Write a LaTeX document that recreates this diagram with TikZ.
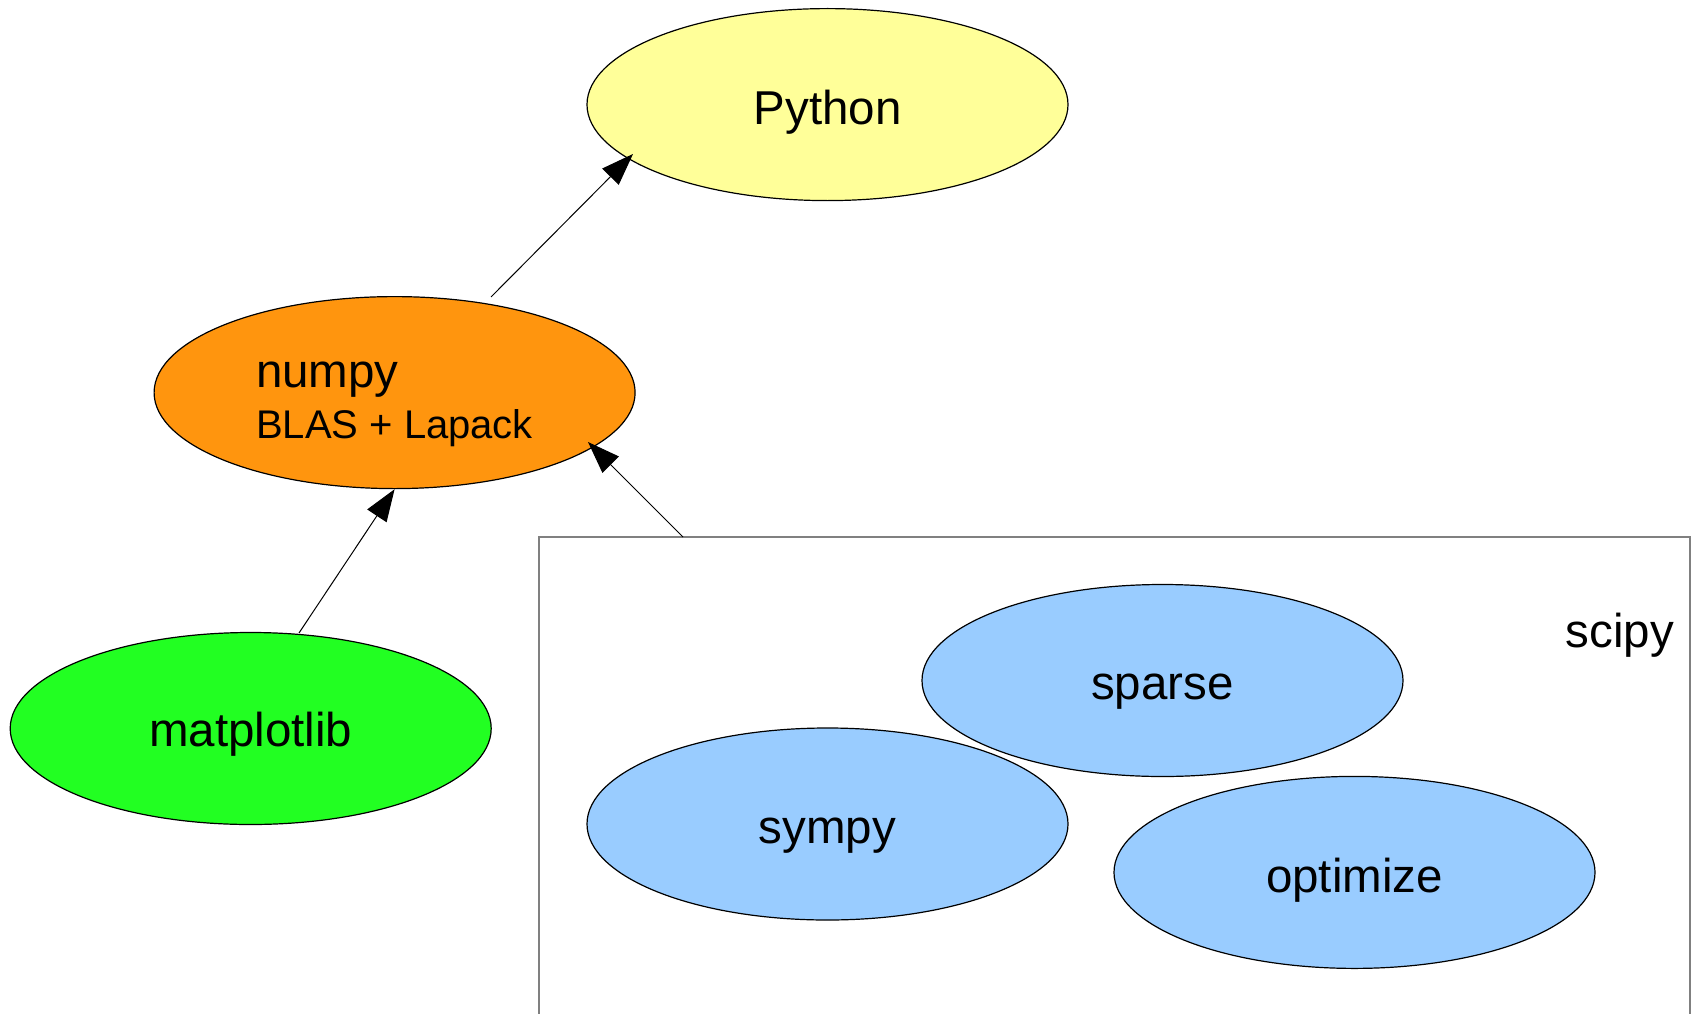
\documentclass[tikz,border=0pt]{standalone}
\usepackage{fontspec}
\setmainfont{Liberation Sans}
\usetikzlibrary{shapes.geometric,arrows.meta}
\definecolor{pyyellow}{HTML}{FFFF99}
\definecolor{nporange}{HTML}{FF950E}
\definecolor{mplgreen}{HTML}{22FF22}
\definecolor{sciblue}{HTML}{99CCFF}
\definecolor{boxgray}{HTML}{808080}
\newcommand{\lowertext}[2]{\raisebox{-#1}[\height][\depth]{#2}}
\begin{document}
\begin{tikzpicture}[x=1pt,y=-1pt,
  blob/.style={ellipse,draw=black,line width=1.2pt,inner sep=0pt,
    minimum width=481pt,minimum height=192pt,
    font=\fontsize{47.5}{57}\selectfont},
  dep/.style={-{Triangle[length=32pt,width=23pt]},line width=1pt},
  lbl/.style={inner sep=0pt,font=\fontsize{47.5}{57}\selectfont}]
\useasboundingbox (0,0) rectangle (1691,1014);
\fill[white] (0,0) rectangle (1691,1014);

% scipy container
\draw[boxgray,line width=1.5pt] (539,1020) -- (539,537) -- (1690,537) -- (1690,1020);
\node[lbl,anchor=base east] (scipy) at (1674,647) {scipy};

% nodes
\node[blob,fill=pyyellow] (python) at (827.5,104.6) {\lowertext{7.5pt}{Python}};
\node[blob,fill=nporange] (numpy) at (394.6,392.6)
  {\lowertext{12pt}{\vbox{\baselineskip=51pt\lineskiplimit=-100pt
    \hbox{numpy}\hbox{\fontsize{40}{48}\selectfont BLAS + Lapack}}}};
\node[blob,fill=mplgreen] (mpl) at (250.7,728.5) {\lowertext{5.5pt}{matplotlib}};
\node[blob,fill=sciblue] (sparse) at (1162.5,680.5) {\lowertext{11pt}{sparse}};
\node[blob,fill=sciblue] (sympy) at (827.5,824) {\lowertext{12pt}{sympy}};
\node[blob,fill=sciblue] (optimize) at (1354.5,872.4) {\lowertext{7.5pt}{optimize}};

% connector ends
\coordinate (np-out) at (491,297);
\coordinate (py-in) at (633,154);
\coordinate (mpl-out) at (299,633);
\coordinate (sc-out) at (683,537);
\coordinate (np-in) at (588,442);

\draw[dep] (np-out) -- (py-in);
\draw[dep] (mpl-out) -- (numpy.south);
\draw[dep] (sc-out) -- (np-in);
\end{tikzpicture}
\end{document}
